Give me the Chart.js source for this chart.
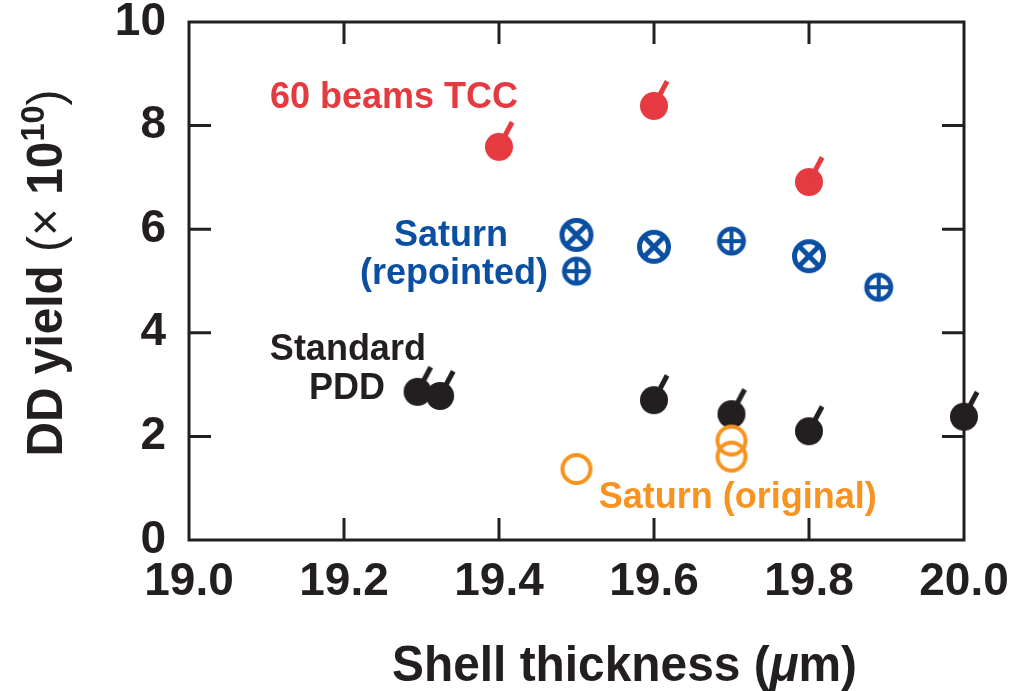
<!DOCTYPE html>
<html>
<head>
<meta charset="utf-8">
<script src="https://cdn.jsdelivr.net/npm/chart.js@4.4.1/dist/chart.umd.min.js"></script>
<style>
  html, body { margin: 0; padding: 0; background: #fff; }
  #chart { display: block; }
</style>
</head>
<body>
<canvas id="chart" width="1028" height="691"></canvas>
<script>
const FONT = '"Liberation Sans", Arial, Helvetica, sans-serif';
const INK = '#231f20';
const RED = '#e43a40';
const BLUE = '#0b4fa3';
const ORANGE = '#f7931e';

// Axis ticks
const xTicks = [19.0, 19.2, 19.4, 19.6, 19.8, 20.0];
const yTicks = [0, 2, 4, 6, 8, 10];

// 60 beams pointed at target chamber center
const tccThickness = [19.40, 19.60, 19.80];
const tccYield = [7.59, 8.38, 6.91];

// Saturn, repointed (two marker kinds)
const repointedXThickness = [19.50, 19.60, 19.80];
const repointedXYield = [5.89, 5.66, 5.48];
const repointedPlusThickness = [19.50, 19.70, 19.89];
const repointedPlusYield = [5.19, 5.77, 4.88];

// Standard polar direct drive
const pddThickness = [19.295, 19.324, 19.60, 19.70, 19.80, 20.00];
const pddYield = [2.86, 2.78, 2.70, 2.43, 2.10, 2.38];

// Saturn, original pointing
const originalThickness = [19.50, 19.70, 19.70];
const originalYield = [1.37, 1.92, 1.61];

// Series labels placed in data units (x, baseline y)
const seriesLabels = [
    { text: '60 beams TCC', x: 19.2645, y: 8.34, color: RED },
    { text: 'Saturn', x: 19.338, y: 5.67, color: BLUE },
    { text: '(repointed)', x: 19.342, y: 4.94, color: BLUE },
    { text: 'Standard', x: 19.205, y: 3.47, color: INK },
    { text: 'PDD', x: 19.204, y: 2.72, color: INK },
    { text: 'Saturn (original)', x: 19.708, y: 0.62, color: ORANGE }
];

const toPoints = (xs, ys) => xs.map((x, i) => ({ x: x, y: ys[i] }));

// Marker sprites drawn once on small canvases, used as point styles.
const makeSprite = (size, draw) => {
    const c = document.createElement('canvas');
    c.width = size;
    c.height = size;
    const g = c.getContext('2d');
    g.translate(size / 2, size / 2);
    draw(g);
    return c;
};

const dotWithTick = (color) => makeSprite(72, g => {
    g.fillStyle = color;
    g.strokeStyle = color;
    g.beginPath();
    g.arc(0, 0, 14, 0, Math.PI * 2);
    g.fill();
    const a = 62 * Math.PI / 180;
    g.lineWidth = 5;
    g.lineCap = 'butt';
    g.beginPath();
    g.moveTo(0, 0);
    g.lineTo(28 * Math.cos(a), -28 * Math.sin(a));
    g.stroke();
});

const crossCircle = (color) => makeSprite(44, g => {
    g.strokeStyle = color;
    g.lineWidth = 5;
    g.beginPath();
    g.arc(0, 0, 14.5, 0, Math.PI * 2);
    g.stroke();
    const d = 14.5 * Math.SQRT1_2;
    g.beginPath();
    g.moveTo(-d, -d); g.lineTo(d, d);
    g.moveTo(d, -d); g.lineTo(-d, d);
    g.stroke();
});

const plusCircle = (color) => makeSprite(40, g => {
    g.strokeStyle = color;
    g.lineWidth = 4.5;
    g.beginPath();
    g.arc(0, 0, 12.2, 0, Math.PI * 2);
    g.stroke();
    g.lineWidth = 4;
    g.beginPath();
    g.moveTo(-12.2, 0); g.lineTo(12.2, 0);
    g.moveTo(0, -12.2); g.lineTo(0, 12.2);
    g.stroke();
});

const openCircle = (color) => makeSprite(40, g => {
    g.strokeStyle = color;
    g.lineWidth = 4;
    g.beginPath();
    g.arc(0, 0, 14, 0, Math.PI * 2);
    g.stroke();
});

const dataset = (points, style) => ({
    data: points,
    pointStyle: style,
    pointRadius: 14,
    pointHoverRadius: 14,
    showLine: false,
    clip: false
});

// Box frame with inward ticks on all four sides.
const framePlugin = {
    id: 'frame',
    beforeDatasetsDraw(chart) {
        const { ctx, chartArea: a, scales: { x, y } } = chart;
        const len = 22;
        ctx.save();
        ctx.strokeStyle = INK;
        ctx.lineWidth = 3;
        ctx.strokeRect(a.left, a.top, a.right - a.left, a.bottom - a.top);
        ctx.beginPath();
        xTicks.slice(1, -1).forEach(v => {
            const px = x.getPixelForValue(v);
            ctx.moveTo(px, a.bottom); ctx.lineTo(px, a.bottom - len);
            ctx.moveTo(px, a.top); ctx.lineTo(px, a.top + len);
        });
        yTicks.slice(1, -1).forEach(v => {
            const py = y.getPixelForValue(v);
            ctx.moveTo(a.left, py); ctx.lineTo(a.left + len, py);
            ctx.moveTo(a.right, py); ctx.lineTo(a.right - len, py);
        });
        ctx.stroke();
        ctx.restore();
    }
};

// Draws a run of text pieces with their own fonts, starting at x0.
const drawRuns = (ctx, runs, x0, y0) => {
    let cx = x0;
    runs.forEach(r => {
        ctx.font = r.font;
        ctx.fillText(r.text, cx, y0 - (r.rise || 0));
        cx += ctx.measureText(r.text).width;
    });
};

const runsWidth = (ctx, runs) => runs.reduce((w, r) => {
    ctx.font = r.font;
    return w + ctx.measureText(r.text).width;
}, 0);

const textPlugin = {
    id: 'texts',
    afterDraw(chart) {
        const { ctx, scales: { x, y } } = chart;
        ctx.save();
        ctx.textBaseline = 'alphabetic';

        // Series labels
        ctx.font = 'bold 36px ' + FONT;
        ctx.textAlign = 'center';
        seriesLabels.forEach(l => {
            ctx.fillStyle = l.color;
            ctx.fillText(l.text, x.getPixelForValue(l.x), y.getPixelForValue(l.y));
        });

        ctx.textAlign = 'left';
        ctx.fillStyle = INK;

        // x axis title, squeezed slightly to the original width
        const xRuns = [
            { text: 'Shell thickness (', font: 'bold 50px ' + FONT },
            { text: 'μ', font: 'italic bold 50px ' + FONT },
            { text: 'm)', font: 'bold 50px ' + FONT }
        ];
        const xw = runsWidth(ctx, xRuns);
        const xTarget = 465;
        ctx.save();
        ctx.translate(624.5, 681);
        ctx.scale(xTarget / xw, 1);
        drawRuns(ctx, xRuns, -xw / 2, 0);
        ctx.restore();

        // y axis title with superscript exponent
        const yRuns = [
            { text: 'DD yield ', font: 'bold 50px ' + FONT },
            { text: '(× ', font: '50px ' + FONT },
            { text: '10', font: 'bold 50px ' + FONT },
            { text: '10', font: 'bold 34px ' + FONT, rise: 18 },
            { text: ')', font: '50px ' + FONT }
        ];
        const yw = runsWidth(ctx, yRuns);
        ctx.save();
        ctx.translate(62, 273);
        ctx.rotate(-Math.PI / 2);
        ctx.scale(367 / yw, 1);
        drawRuns(ctx, yRuns, -yw / 2, 0);
        ctx.restore();

        ctx.restore();
    }
};

new Chart(document.getElementById('chart'), {
    type: 'scatter',
    data: {
        datasets: [
            dataset(toPoints(originalThickness, originalYield), openCircle(ORANGE)),
            dataset(toPoints(pddThickness, pddYield), dotWithTick(INK)),
            dataset(toPoints(repointedXThickness, repointedXYield), crossCircle(BLUE)),
            dataset(toPoints(repointedPlusThickness, repointedPlusYield), plusCircle(BLUE)),
            dataset(toPoints(tccThickness, tccYield), dotWithTick(RED))
        ]
    },
    options: {
        responsive: false,
        animation: false,
        events: [],
        layout: { padding: { top: 22, right: 64, left: 0, bottom: 0 } },
        plugins: {
            legend: { display: false },
            tooltip: { enabled: false }
        },
        scales: {
            x: {
                type: 'linear',
                min: 19,
                max: 20,
                afterBuildTicks: s => { s.ticks = xTicks.map(v => ({ value: v })); },
                afterFit: s => {
                    s.height = 151;
                    s.paddingLeft = 0;
                    s.paddingRight = 0;
                },
                grid: { display: false, drawTicks: false },
                border: { display: false },
                ticks: {
                    padding: 15,
                    color: INK,
                    font: { family: FONT, size: 46, weight: 'bold' },
                    callback: v => Number(v).toFixed(1)
                }
            },
            y: {
                type: 'linear',
                min: 0,
                max: 10,
                afterBuildTicks: s => { s.ticks = yTicks.map(v => ({ value: v })); },
                afterFit: s => {
                    s.width = 189;
                    s.paddingTop = 0;
                    s.paddingBottom = 0;
                },
                grid: { display: false, drawTicks: false },
                border: { display: false },
                ticks: {
                    padding: 23,
                    color: INK,
                    font: { family: FONT, size: 46, weight: 'bold' },
                    callback: v => String(v)
                }
            }
        }
    },
    plugins: [framePlugin, textPlugin]
});
</script>
</body>
</html>
